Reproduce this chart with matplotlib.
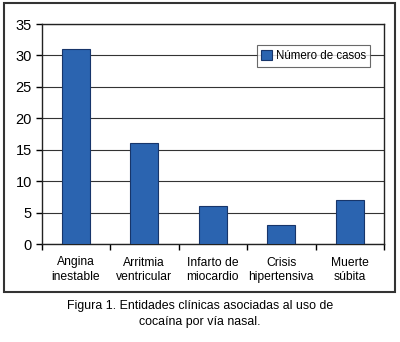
import numpy as np
import matplotlib.pyplot as plt
from matplotlib.patches import Rectangle

categorias = ['Angina\ninestable', 'Arritmia\nventricular', 'Infarto de\nmiocardio',
              'Crisis\nhipertensiva', 'Muerte\nsúbita']
casos = [31, 16, 6, 3, 7]
yticks = [0, 5, 10, 15, 20, 25, 30, 35]

plt.rcParams['font.family'] = ['Liberation Sans', 'DejaVu Sans']

W, H = 400, 342
fig = plt.figure(figsize=(W / 100, H / 100), dpi=100)
# plot area in pixels: left 41.5, right 384, top 24, bottom 244
ax = fig.add_axes([41.5 / W, 1 - 244 / H, (384 - 41.5) / W, (244 - 24) / H])

x = np.arange(len(casos))
ax.bar(x, casos, width=0.41, color='#2b64b0', edgecolor='#17356a', linewidth=0.8,
       label='Número de casos', zorder=3)

ax.set_xlim(-0.5, len(casos) - 0.5)
ax.set_ylim(0, 35)
ax.set_yticks(yticks)
ax.set_yticklabels([str(v) for v in yticks], fontsize=10.5)
ax.set_xticks(x)
ax.set_xticklabels(categorias, fontsize=8.7, linespacing=1.25)
ax.tick_params(axis='x', length=0, pad=9)
ax.set_xticks(np.arange(-0.5, len(casos) + 0.5), minor=True)
ax.tick_params(axis='x', which='minor', length=4, width=1, direction='out')
ax.tick_params(axis='y', length=4, width=1, direction='out', pad=3)
ax.yaxis.grid(True, color='#333333', linewidth=0.8, zorder=0)
for s in ax.spines.values():
    s.set_linewidth(1.0)
    s.set_color('#222222')

leg = ax.legend(loc='center', bbox_to_anchor=(313.5 / W, 1 - 56 / H),
                bbox_transform=fig.transFigure, fontsize=8.3, frameon=True,
                fancybox=False, edgecolor='#444444', handlelength=0.95,
                handleheight=0.95, handletextpad=0.3, borderpad=0.4,
                borderaxespad=0)
leg.get_frame().set_linewidth(0.8)

# outer box around chart
fig.patches.append(Rectangle((4 / W, 1 - 292 / H), (395 - 4) / W, (292 - 3) / H,
                             transform=fig.transFigure, fill=False,
                             edgecolor='#333333', linewidth=1.5))

fig.text(0.5, 1 - 314 / H, 'Figura 1. Entidades clínicas asociadas al uso de\ncocaína por vía nasal.',
         ha='center', va='center', fontsize=8.9, linespacing=1.35,
         family=['Liberation Sans Narrow', 'Liberation Sans', 'DejaVu Sans'])

fig.savefig('out.png', dpi=100)
